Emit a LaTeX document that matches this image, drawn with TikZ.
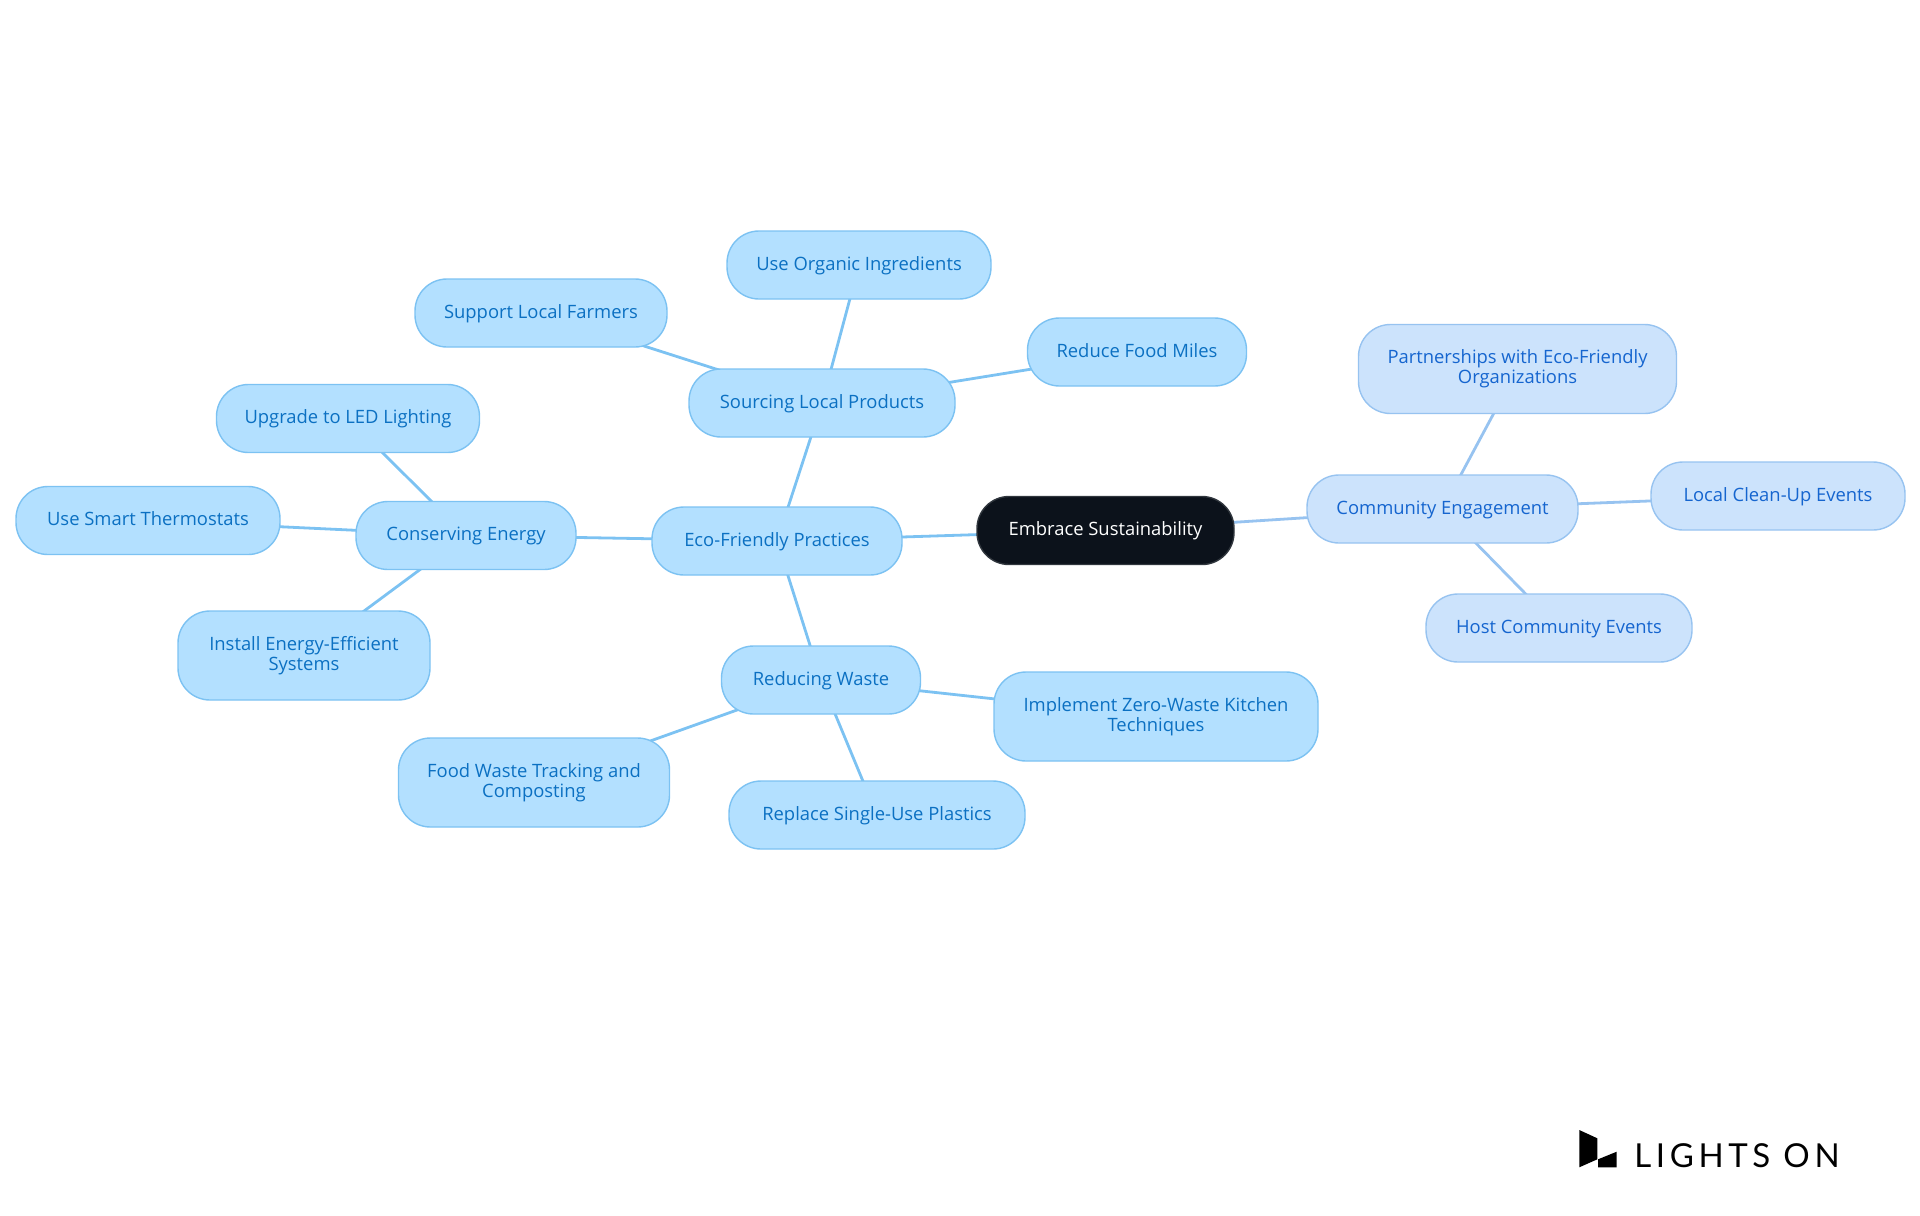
\documentclass[tikz,border=0pt]{standalone}
\usepackage{fontspec}
\setmainfont{Open Sans}
\newfontfamily\logofont[LetterSpace=14]{Lato}
\usetikzlibrary{backgrounds}
\definecolor{rootfill}{HTML}{0C121B}
\definecolor{ecofill}{HTML}{B3E0FF}
\definecolor{ecoline}{HTML}{7CC2F2}
\definecolor{ecotext}{HTML}{0B70C2}
\definecolor{commfill}{HTML}{CCE3FC}
\definecolor{commline}{HTML}{97C3F0}
\definecolor{commtext}{HTML}{1565CF}
\tikzset{
    x = 0.5pt,
    y = -0.5pt,
    box/.style = {draw, rounded corners = 16pt, line width = 0.7pt, align = center,
        minimum height = 34pt, inner sep = 0pt,
        font = \fontsize{9.2}{10}\selectfont,
        execute at begin node = \rule{0pt}{7.6pt},
        execute at end node = \rule[-2.4pt]{0pt}{2.4pt}},
    twolines/.style = {minimum height = 44.5pt,
        execute at begin node = \rule{0pt}{8.2pt},
        execute at end node = \rule[-1.8pt]{0pt}{1.8pt}},
    root/.style = {box, fill = rootfill, draw = rootfill!85!white, text = white},
    eco/.style = {box, fill = ecofill, draw = ecoline, text = ecotext},
    comm/.style = {box, fill = commfill, draw = commline, text = commtext},
    ecoedge/.style = {draw = ecoline, line width = 1.4pt},
    commedge/.style = {draw = commline, line width = 1.4pt}
}

\begin{document}
\begin{tikzpicture}
    \useasboundingbox (0, 0) rectangle (1920, 1215);

    \node[root, minimum width = 128.5pt] (embrace) at (1105.5, 530.5) {Embrace Sustainability};

    \node[eco, minimum width = 125pt] (practices) at (777, 541) {Eco-Friendly Practices};
    \node[eco, minimum width = 133pt] (sourcing) at (822, 403) {Sourcing Local Products};
    \node[eco, minimum width = 132pt] (organic) at (859, 265) {Use Organic Ingredients};
    \node[eco, minimum width = 126pt] (farmers) at (541, 313) {Support Local Farmers};
    \node[eco, minimum width = 109.5pt] (miles) at (1137, 352) {Reduce Food Miles};
    \node[eco, minimum width = 110pt] (energy) at (466, 535.5) {Conserving Energy};
    \node[eco, minimum width = 131.5pt] (led) at (348, 418.5) {Upgrade to LED Lighting};
    \node[eco, minimum width = 132pt] (thermostats) at (148, 520.5) {Use Smart Thermostats};
    \node[eco, twolines, minimum width = 126pt] (systems) at (304, 655.5) {Install Energy-Efficient\\Systems};
    \node[eco, minimum width = 99.5pt] (waste) at (821, 680) {Reducing Waste};
    \node[eco, twolines, minimum width = 162pt] (zero) at (1156, 716.5) {Implement Zero-Waste Kitchen\\Techniques};
    \node[eco, minimum width = 148pt] (plastics) at (877, 815) {Replace Single-Use Plastics};
    \node[eco, twolines, minimum width = 135.5pt] (tracking) at (534, 782.5) {Food Waste Tracking and\\Composting};

    \node[comm, minimum width = 135.5pt] (community) at (1442.5, 509) {Community Engagement};
    \node[comm, twolines, minimum width = 159pt] (partners) at (1517.5, 369) {Partnerships with Eco-Friendly\\Organizations};
    \node[comm, minimum width = 127pt] (cleanup) at (1778, 496) {Local Clean-Up Events};
    \node[comm, minimum width = 133pt] (host) at (1559, 628) {Host Community Events};

    \begin{scope}[on background layer]
        \draw[ecoedge] (embrace.center) -- (practices.center);
        \draw[ecoedge] (practices.center) -- (sourcing.center);
        \draw[ecoedge] (practices.center) -- (energy.center);
        \draw[ecoedge] (practices.center) -- (waste.center);
        \draw[ecoedge] (sourcing.center) -- (organic.center);
        \draw[ecoedge] (sourcing.center) -- (farmers.center);
        \draw[ecoedge] (sourcing.center) -- (miles.center);
        \draw[ecoedge] (energy.center) -- (led.center);
        \draw[ecoedge] (energy.center) -- (thermostats.center);
        \draw[ecoedge] (energy.center) -- (systems.center);
        \draw[ecoedge] (waste.center) -- (zero.center);
        \draw[ecoedge] (waste.center) -- (plastics.center);
        \draw[ecoedge] (waste.center) -- (tracking.center);
        \draw[commedge] (embrace.center) -- (community.center);
        \draw[commedge] (community.center) -- (partners.center);
        \draw[commedge] (community.center) -- (cleanup.center);
        \draw[commedge] (community.center) -- (host.center);
    \end{scope}

    % logo
    \fill[black] (1579.3, 1130) -- (1597.3, 1138.3) -- (1597.3, 1159.3) -- (1579.3, 1167.3) -- cycle;
    \fill[black] (1598, 1159.3) -- (1616.7, 1151.7) -- (1616.7, 1167.3) -- (1598, 1167.3) -- cycle;
    \node[anchor = base west, inner sep = 0pt, font = \logofont\fontsize{16.5}{16.5}\selectfont] (logo) at (1634, 1167) {LIGHTS ON};
\end{tikzpicture}
\end{document}
